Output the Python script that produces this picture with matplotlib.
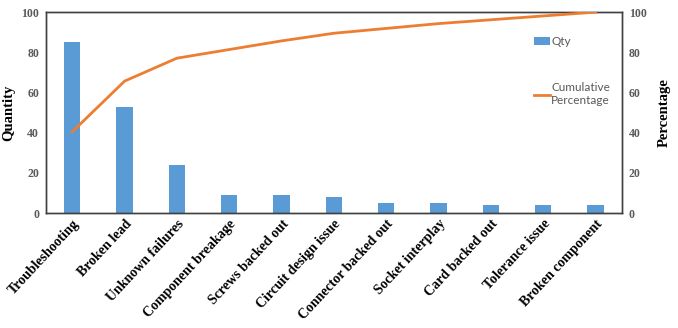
import matplotlib
matplotlib.use('Agg')
import matplotlib.pyplot as plt

# ---- data
categories = ['Troubleshooting', 'Broken lead', 'Unknown failures', 'Component breakage',
              'Screws backed out', 'Circuit design issue', 'Connector backed out',
              'Socket interplay', 'Card backed out', 'Tolerance issue', 'Broken component']
qty = [85, 53, 24, 9, 9, 8, 5, 5, 4, 4, 4]
cum_pct = [40.5, 65.7, 77.1, 81.4, 85.7, 89.5, 91.9, 94.3, 96.2, 98.1, 100]

bar_color = '#5B9BD5'
line_color = '#ED7D31'
tick_color = '#595959'

fig = plt.figure(figsize=(6.78, 3.28), dpi=100)
ax = fig.add_axes([0.068, 0.35, 0.849, 0.613])
ax2 = ax.twinx()

x = list(range(len(categories)))
bars = ax.bar(x, qty, width=0.31, color=bar_color, label='Qty', zorder=2)
line, = ax2.plot(x, cum_pct, color=line_color, lw=2, label='Cumulative\nPercentage', zorder=3)

ax.set_xlim(-0.5, len(categories) - 0.5)
ax.set_ylim(0, 100)
ax2.set_ylim(0, 100)
ax.set_yticks([0, 20, 40, 60, 80, 100])
ax2.set_yticks([0, 20, 40, 60, 80, 100])

serif = 'Liberation Serif'
ax.set_xticks(x)
ax.set_xticklabels(categories, rotation=47, ha='right', rotation_mode='anchor',
                   fontfamily=serif, fontweight='bold', fontsize=10)
for a in (ax, ax2):
    a.tick_params(axis='y', length=0, pad=5)
    for lbl in a.get_yticklabels():
        lbl.set_fontfamily(serif)
        lbl.set_fontweight('bold')
        lbl.set_fontsize(8.5)
        lbl.set_color(tick_color)
    for s in a.spines.values():
        s.set_color('#404040')
        s.set_linewidth(1)
ax.tick_params(axis='x', length=0, pad=3)

ax.set_ylabel('Quantity', fontfamily=serif, fontweight='bold', fontsize=10.5, labelpad=4)
ax2.set_ylabel('Percentage', fontfamily=serif, fontweight='bold', fontsize=10.5, labelpad=8)

ax2.legend([bars, line], ['Qty', 'Cumulative\nPercentage'], loc='upper right',
           bbox_to_anchor=(0.988, 0.905), frameon=False, labelspacing=3.0,
           handlelength=1.4, handletextpad=0.1, borderaxespad=0,
           prop={'family': 'Lato', 'size': 8.5}, labelcolor=tick_color)

fig.savefig('out.png', dpi=100)
